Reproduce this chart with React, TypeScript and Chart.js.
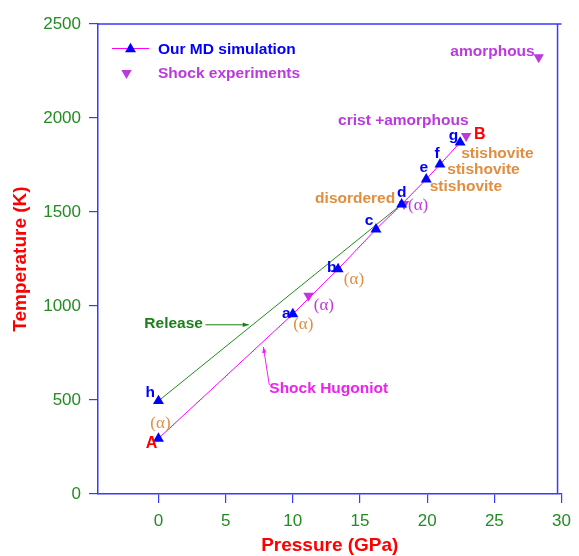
import React, { useEffect, useRef } from 'react';
import { Chart, registerables } from 'chart.js';

Chart.register(...registerables);

// ---- data ----
const mdPressure = [0, 10.0, 13.37, 16.19, 18.1, 19.93, 20.95, 22.45];
const mdTemperature = [295, 957, 1196, 1408, 1541, 1674, 1753, 1870];
const releasePressure = [0, 18.1];
const releaseTemperature = [495, 1541];
const shockPressure = [11.17, 18.28, 22.9, 28.3];
const shockTemperature = [1054, 1543, 1904, 2323];
const xTickValues = [0, 5, 10, 15, 20, 25, 30];
const yTickValues = [0, 500, 1000, 1500, 2000, 2500];

// annotation labels: [text, pressure, temperature, style, align]
const annotationLabels: [string, number, number, string, CanvasTextAlign][] = [
  ['A', -0.51, 245, 'red', 'center'],
  ['(α)', 0.15, 351, 'alphaOrange', 'center'],
  ['h', -0.62, 516, 'letter', 'center'],
  ['a', 9.52, 936, 'letter', 'center'],
  ['(α)', 10.78, 878, 'alphaOrange', 'center'],
  ['(α)', 12.31, 979, 'alphaPurple', 'center'],
  ['b', 12.9, 1181, 'letter', 'center'],
  ['(α)', 14.55, 1117, 'alphaOrange', 'center'],
  ['c', 15.68, 1431, 'letter', 'center'],
  ['d', 18.1, 1580, 'letter', 'center'],
  ['disordered', 17.62, 1548, 'orange', 'right'],
  ['(α)', 18.57, 1511, 'alphaPurple', 'left'],
  ['e', 19.75, 1713, 'letter', 'center'],
  ['stishovite', 20.19, 1612, 'orange', 'left'],
  ['f', 20.74, 1787, 'letter', 'center'],
  ['stishovite', 21.5, 1702, 'orange', 'left'],
  ['g', 21.95, 1883, 'letter', 'center'],
  ['stishovite', 22.53, 1787, 'orange', 'left'],
  ['B', 23.48, 1888, 'red', 'left'],
  ['crist +amorphous', 13.37, 1963, 'purple', 'left'],
  ['amorphous', 21.72, 2330, 'purple', 'left'],
  ['Release', -1.05, 883, 'green', 'left'],
  ['Shock Hugoniot', 8.25, 537, 'magenta', 'left'],
];

// arrows: [fromP, fromT, toP, toT, color]
const annotationArrows: [number, number, number, number, string][] = [
  [3.5, 900, 6.72, 900, '#1a7f1a'],
  [8.25, 580, 7.81, 782, '#ee22ee'],
];

const legendLabels = ['Our MD simulation', 'Shock experiments'];

const BLUE = '#0000ff';
const MAGENTA = '#ff00ff';
const PURPLE = '#bb3add';
const ORANGE = '#e08e40';
const GREEN = '#228b22';
const AXIS = '#3a3aff';
const SANS = '"Liberation Sans", Arial, sans-serif';
const SERIF = '"Liberation Serif", "Times New Roman", serif';

const styles: Record<string, { font: string; color: string }> = {
  red: { font: `bold 16px ${SANS}`, color: '#ff0000' },
  letter: { font: `bold 15.5px ${SANS}`, color: BLUE },
  orange: { font: `bold 15.5px ${SANS}`, color: ORANGE },
  purple: { font: `bold 15.5px ${SANS}`, color: PURPLE },
  green: { font: `bold 15.5px ${SANS}`, color: '#1a7f1a' },
  magenta: { font: `bold 15.5px ${SANS}`, color: '#ee22ee' },
  alphaOrange: { font: `17px ${SERIF}`, color: ORANGE },
  alphaPurple: { font: `17px ${SERIF}`, color: PURPLE },
};

function tri(ctx: CanvasRenderingContext2D, x: number, y: number, r: number, down: boolean, color: string) {
  const s = down ? -1 : 1;
  ctx.beginPath();
  ctx.moveTo(x, y - s * r);
  ctx.lineTo(x + Math.sin((2 * Math.PI) / 3) * r, y + (s * r) / 2);
  ctx.lineTo(x - Math.sin((2 * Math.PI) / 3) * r, y + (s * r) / 2);
  ctx.closePath();
  ctx.fillStyle = color;
  ctx.fill();
}

const decorPlugin = {
  id: 'decor',
  afterDraw(chart: any) {
    const { ctx, chartArea, scales } = chart;
    const xs = scales.x;
    const ys = scales.y;
    ctx.save();
    // box top and right
    ctx.strokeStyle = AXIS;
    ctx.lineWidth = 1.5;
    ctx.beginPath();
    ctx.moveTo(chartArea.left, chartArea.top);
    ctx.lineTo(chartArea.right, chartArea.top);
    ctx.moveTo(chartArea.right - 4, chartArea.top);
    ctx.lineTo(chartArea.right - 4, chartArea.bottom);
    ctx.stroke();

    // labels
    ctx.textBaseline = 'alphabetic';
    for (const [text, p, t, st, align] of annotationLabels) {
      ctx.font = styles[st].font;
      ctx.fillStyle = styles[st].color;
      ctx.textAlign = align;
      ctx.fillText(text, xs.getPixelForValue(p), ys.getPixelForValue(t));
    }

    // arrows
    for (const [p0, t0, p1, t1, color] of annotationArrows) {
      const x0 = xs.getPixelForValue(p0);
      const y0 = ys.getPixelForValue(t0);
      const x1 = xs.getPixelForValue(p1);
      const y1 = ys.getPixelForValue(t1);
      ctx.strokeStyle = color;
      ctx.fillStyle = color;
      ctx.lineWidth = 1;
      ctx.beginPath();
      ctx.moveTo(x0, y0);
      ctx.lineTo(x1, y1);
      ctx.stroke();
      const a = Math.atan2(y1 - y0, x1 - x0);
      const L = 6;
      const W = 2.2;
      ctx.beginPath();
      ctx.moveTo(x1, y1);
      ctx.lineTo(x1 - L * Math.cos(a) + W * Math.sin(a), y1 - L * Math.sin(a) - W * Math.cos(a));
      ctx.lineTo(x1 - L * Math.cos(a) - W * Math.sin(a), y1 - L * Math.sin(a) + W * Math.cos(a));
      ctx.closePath();
      ctx.fill();
    }

    // legend
    const lx = chartArea.left;
    const ly = chartArea.top;
    ctx.strokeStyle = MAGENTA;
    ctx.lineWidth = 1;
    ctx.beginPath();
    ctx.moveTo(lx + 14, ly + 24.5);
    ctx.lineTo(lx + 51, ly + 24.5);
    ctx.stroke();
    tri(ctx, lx + 32.5, ly + 25, 6.3, false, BLUE);
    tri(ctx, lx + 28.5, ly + 49, 6, true, PURPLE);
    ctx.font = `bold 15.5px ${SANS}`;
    ctx.textAlign = 'left';
    ctx.fillStyle = BLUE;
    ctx.fillText(legendLabels[0], lx + 60, ly + 30);
    ctx.fillStyle = PURPLE;
    ctx.fillText(legendLabels[1], lx + 60, ly + 54);
    ctx.restore();
  },
};

export default function App() {
  const ref = useRef<HTMLCanvasElement | null>(null);

  useEffect(() => {
    if (!ref.current) return;
    const chart = new Chart(ref.current, {
      type: 'scatter',
      data: {
        datasets: [
          {
            label: legendLabels[0],
            data: mdPressure.map((p, i) => ({ x: p, y: mdTemperature[i] })),
            showLine: true,
            borderColor: MAGENTA,
            borderWidth: 1,
            backgroundColor: BLUE,
            pointStyle: 'triangle',
            pointRadius: 6.3,
            pointBorderWidth: 0,
            order: 1,
          },
          {
            label: 'Release',
            data: releasePressure.map((p, i) => ({ x: p, y: releaseTemperature[i] })),
            showLine: true,
            borderColor: GREEN,
            borderWidth: 1,
            backgroundColor: BLUE,
            pointStyle: 'triangle',
            pointRadius: [6.3, 0],
            pointBorderWidth: 0,
            order: 2,
          },
          {
            label: legendLabels[1],
            data: shockPressure.map((p, i) => ({ x: p, y: shockTemperature[i] })),
            showLine: false,
            backgroundColor: PURPLE,
            pointStyle: 'triangle',
            pointRotation: 180,
            pointRadius: 6,
            pointBorderWidth: 0,
            order: 3,
          },
        ],
      },
      options: {
        animation: false,
        responsive: false,
        layout: { padding: { top: 24, right: 10, left: 0, bottom: 0 } },
        plugins: { legend: { display: false }, tooltip: { enabled: false } },
        scales: {
          x: {
            type: 'linear',
            min: -4.5,
            max: 30,
            afterBuildTicks: (s: any) => {
              s.ticks = xTickValues.map((v) => ({ value: v }));
            },
            afterFit: (s: any) => {
              s.height = 62;
            },
            grid: { drawOnChartArea: false, drawTicks: true, tickLength: 9, color: AXIS, lineWidth: 1.2 },
            border: { display: true, color: AXIS, width: 1.5 },
            ticks: {
              color: GREEN,
              font: { family: SANS, size: 17 },
              padding: 8,
              maxRotation: 0,
              callback: (v: any) => String(v),
            },
            title: {
              display: true,
              text: 'Pressure (GPa)',
              color: '#ff0000',
              font: { family: SANS, size: 19, weight: 'bold', lineHeight: 1 },
              padding: { top: 0, bottom: 0.5 },
            },
          },
          y: {
            type: 'linear',
            min: 0,
            max: 2500,
            afterBuildTicks: (s: any) => {
              s.ticks = yTickValues.map((v) => ({ value: v }));
            },
            afterFit: (s: any) => {
              s.width = 98;
            },
            grid: { drawOnChartArea: false, drawTicks: true, tickLength: 9, color: AXIS, lineWidth: 1.2 },
            border: { display: true, color: AXIS, width: 1.5 },
            ticks: {
              color: GREEN,
              font: { family: SANS, size: 17 },
              padding: 8,
              callback: (v: any) => String(v),
            },
            title: {
              display: true,
              text: 'Temperature (K)',
              color: '#ff0000',
              font: { family: SANS, size: 19, weight: 'bold', lineHeight: 1.2 },
              padding: { top: 9, bottom: 0 },
            },
          },
        },
      },
      plugins: [decorPlugin],
    });
    return () => chart.destroy();
  }, []);

  return (
    <div style={{ position: 'fixed', left: 0, top: 0, width: 579, height: 556, background: '#fff' }}>
      <canvas ref={ref} width={579} height={556} style={{ width: 579, height: 556 }} />
    </div>
  );
}
